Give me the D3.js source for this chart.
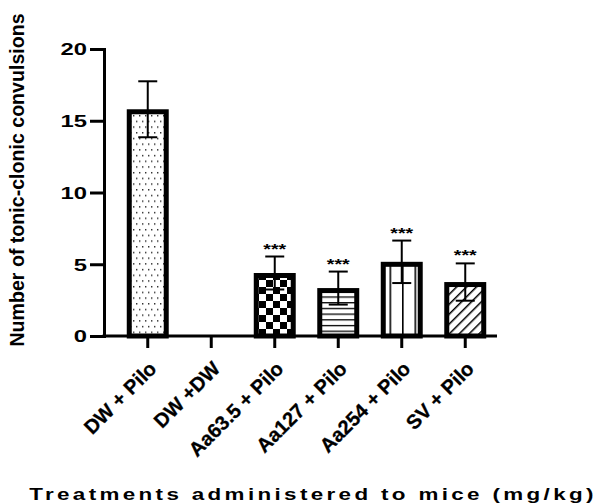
<!DOCTYPE html>
<html><head><meta charset="utf-8">
<script src="https://cdn.jsdelivr.net/npm/d3@7"></script>
<style>body{margin:0;background:#fff}svg{display:block}text{font-family:"Liberation Sans",Arial,sans-serif;font-weight:bold;fill:#000}</style>
</head><body><div id="c"></div>
<script>
const categories = ["DW + Pilo","DW +DW","Aa63.5 + Pilo","Aa127 + Pilo","Aa254 + Pilo","SV + Pilo"];
const means = [15.8, 0, 4.39, 3.34, 5.17, 3.76];
const errors = [1.95, 0, 1.15, 1.15, 1.48, 1.3];
const stars = ["", "", "***", "***", "***", "***"];
const patterns = ["dots", "none", "checker", "hlines", "vlines", "diag"];
const yTicks = [0, 5, 10, 15, 20];

const W = 601, H = 504, SX = 1.4, SW = 5;
const svg = d3.select("#c").append("svg").attr("width", W).attr("height", H);
const defs = svg.append("defs");
// patterns
const pd = defs.append("pattern").attr("id","dots").attr("patternUnits","userSpaceOnUse").attr("width",6).attr("height",11.4);
pd.append("rect").attr("width",6).attr("height",11.4).attr("fill","#fff");
pd.append("rect").attr("x",1).attr("y",1).attr("width",1.4).attr("height",1.4).attr("fill","#222");
pd.append("rect").attr("x",4).attr("y",6.7).attr("width",1.4).attr("height",1.4).attr("fill","#222");
const pc = defs.append("pattern").attr("id","checker").attr("patternUnits","userSpaceOnUse").attr("width",14).attr("height",14);
pc.append("rect").attr("width",14).attr("height",14).attr("fill","#fff");
pc.append("rect").attr("width",7).attr("height",7).attr("fill","#000");
pc.append("rect").attr("x",7).attr("y",7).attr("width",7).attr("height",7).attr("fill","#000");
const ph = defs.append("pattern").attr("id","hlines").attr("patternUnits","userSpaceOnUse").attr("width",10).attr("height",5.7);
ph.append("rect").attr("width",10).attr("height",5.7).attr("fill","#fff");
ph.append("rect").attr("y",0).attr("width",10).attr("height",1.3).attr("fill","#000");
const pv = defs.append("pattern").attr("id","vlines").attr("patternUnits","userSpaceOnUse").attr("width",12.5).attr("height",10).attr("x",2);
pv.append("rect").attr("width",12.5).attr("height",10).attr("fill","#fff");
pv.append("rect").attr("x",0).attr("width",1.6).attr("height",10).attr("fill","#000");
const pg = defs.append("pattern").attr("id","diag").attr("patternUnits","userSpaceOnUse").attr("width",7).attr("height",10).attr("patternTransform","rotate(45)");
pg.append("rect").attr("width",7).attr("height",10).attr("fill","#fff");
pg.append("rect").attr("x",0).attr("width",1.5).attr("height",10).attr("fill","#000");

const x = d3.scaleBand().domain(categories).range([116, 497]).padding(0);
const y = d3.scaleLinear().domain([0, 20]).range([336, 49]);
const bw = x.bandwidth() * 0.661; // outer width of a bar

const data = categories.map((c,i)=>({c, m:means[i], e:errors[i], s:stars[i], p:patterns[i]}));

// bars (outer edge of the border sits on the value)
svg.append("g").selectAll("rect").data(data.filter(d=>d.m>0)).join("rect")
  .attr("x", d => x(d.c) + x.bandwidth()/2 - bw/2 + SW/2)
  .attr("y", d => y(d.m) + SW/2)
  .attr("width", bw - SW)
  .attr("height", d => y(0) - y(d.m) - SW/2)
  .attr("fill", d => `url(#${d.p})`)
  .attr("stroke", "#000").attr("stroke-width", SW);

// error bars
const eg = svg.append("g").attr("stroke","#000").attr("stroke-width",2);
data.filter(d=>d.e>0).forEach(d=>{
  const cx = x(d.c) + x.bandwidth()/2;
  eg.append("line").attr("x1",cx).attr("x2",cx).attr("y1",y(d.m-d.e)).attr("y2",y(d.m+d.e));
  eg.append("line").attr("x1",cx-9.5).attr("x2",cx+9.5).attr("y1",y(d.m+d.e)).attr("y2",y(d.m+d.e));
  eg.append("line").attr("x1",cx-9.5).attr("x2",cx+9.5).attr("y1",y(d.m-d.e)).attr("y2",y(d.m-d.e));
});

// stars
svg.append("g").selectAll("text").data(data.filter(d=>d.s)).join("text")
  .attr("transform", d => `translate(${x(d.c)+x.bandwidth()/2},${y(d.m+d.e)-3}) scale(${SX},1)`)
  .attr("text-anchor","middle").attr("font-size",14).text(d=>d.s);

// y axis
const ya = svg.append("g").attr("transform","translate(104,0)")
  .call(d3.axisLeft(y).tickValues(yTicks).tickSize(14).tickSizeOuter(0).tickPadding(3));
ya.select(".domain").attr("stroke","#000").attr("stroke-width",3).attr("stroke-linecap","square");
ya.selectAll(".tick line").attr("stroke","#000").attr("stroke-width",3);
ya.selectAll(".tick text").attr("font-size",17).attr("font-family","Liberation Sans, Arial").attr("font-weight","bold")
  .each(function(){
    d3.select(this).attr("x", null).attr("dy","0.35em")
      .attr("transform",`translate(-17,0) scale(${SX},1)`).attr("text-anchor","end");
  });

// x axis
const xa = svg.append("g").attr("transform","translate(0,336)");
xa.append("line").attr("x1",102.5).attr("x2",497).attr("stroke","#000").attr("stroke-width",3);
xa.selectAll(".xt").data(categories).join("line").attr("class","xt")
  .attr("x1", d=>x(d)+x.bandwidth()/2).attr("x2", d=>x(d)+x.bandwidth()/2)
  .attr("y1",0).attr("y2",12).attr("stroke","#000").attr("stroke-width",3);
xa.selectAll(".xl").data(categories).join("text").attr("class","xl")
  .attr("transform", d=>`translate(${x(d)+x.bandwidth()/2+10},34) rotate(-45)`)
  .attr("text-anchor","end").attr("font-size",20).attr("stroke","#000").attr("stroke-width",0.3).text(d=>d);

// axis titles
svg.append("text").attr("transform",`translate(24,180) rotate(-90)`)
  .attr("text-anchor","middle").attr("font-size",19.6).text("Number of tonic-clonic convulsions");
svg.append("text").attr("transform",`translate(313,500) scale(${SX},1)`)
  .attr("text-anchor","middle").attr("font-size",16).attr("letter-spacing",2.4).text("Treatments administered to mice  (mg/kg)");
</script></body></html>
